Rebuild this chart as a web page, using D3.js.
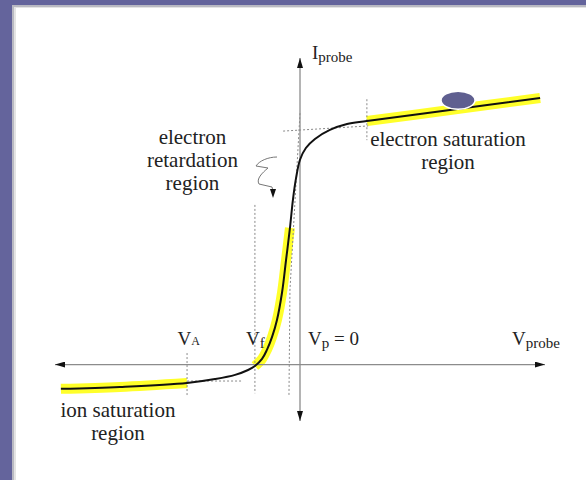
<!DOCTYPE html>
<html>
<head>
<meta charset="utf-8">
<script src="https://cdn.jsdelivr.net/npm/d3@7"></script>
<style>
  body { margin: 0; background: #ffffff; }
  svg { display: block; }
  text { font-family: "Liberation Serif", "Times New Roman", serif; fill: #222; }
</style>
</head>
<body>
<div id="chart"></div>
<script>
// Langmuir probe I-V characteristic (schematic)

var width = 586, height = 480;

// probe curve (V in arbitrary units, V_p = 0)
var curveV = [-9.76, -7.35, -4.61, -3.47, -2.65, -2.12, -1.84, -1.55, -1.35, -1.14, -0.94,
              -0.73, -0.57, -0.41, -0.29, -0.16, 0.00, 0.24, 0.61, 1.22, 1.92, 2.73, 6.12, 9.80];
var curveI = [-0.99, -0.91, -0.75, -0.59, -0.42, -0.22, -0.06, 0.23, 0.60, 1.13, 1.82,
              2.96, 4.26, 5.57, 6.71, 7.61, 8.35, 8.83, 9.20, 9.57, 9.81, 9.93, 10.38, 10.87];

// characteristic voltages
var vA = -4.61, vF = -1.84, vSat = 2.73;

// highlighted ranges [from, to]
var highlights = [[-9.76, -4.61], [-1.84, -0.41], [2.73, 9.80]];

// dotted construction lines, each a list of [V, I]
var guides = [
  [[vA, 0.47], [vA, -1.25]],
  [[vF, 6.51], [vF, -1.17]],
  [[0.0, 10.25], [-0.41, 3.04], [-0.45, -1.25]],
  [[-0.69, 9.52], [2.78, 9.73]],
  [[vSat, 10.82], [vSat, 9.15]],
  [[vA, -0.67], [-2.37, -0.67]]
];

// text labels
var regionLabels = [
  { lines: ["electron", "retardation", "region"], v: -4.39, i: 9.0 },
  { lines: ["electron saturation", "region"], v: 6.04, i: 8.92 },
  { lines: ["ion saturation", "region"], v: -7.43, i: -2.14 }
];
var symbolLabels = [
  { main: "I", sub: "probe", tail: "", v: 0.49, i: 12.45 },
  { main: "V", sub: "A", tail: "", v: -5.0, i: 0.8, small: true },
  { main: "V", sub: "f", tail: "", v: -2.2, i: 0.8 },
  { main: "V", sub: "p", tail: " = 0", v: 0.33, i: 0.8 },
  { main: "V", sub: "probe", tail: "", v: 8.65, i: 0.8 }
];

var marker = { v: 6.45, i: 10.78 };

var x = d3.scaleLinear().domain([-10, 10]).range([55, 545]);
var y = d3.scaleLinear().domain([-2.3, 12.5]).range([421, 58]);

var svg = d3.select("#chart").append("svg")
    .attr("width", width)
    .attr("height", height);

// slide frame
svg.append("rect").attr("width", width).attr("height", height).attr("fill", "#64649c");
svg.append("rect").attr("x", 12).attr("y", 5).attr("width", width).attr("height", height).attr("fill", "#b9b9c2");
svg.append("rect").attr("x", 14).attr("y", 7).attr("width", width).attr("height", height).attr("fill", "#e4e4e4");
svg.append("rect").attr("x", 16).attr("y", 8).attr("width", width).attr("height", height).attr("fill", "#ffffff");

var pts = curveV.map(function(v, k) { return [v, curveI[k]]; });

var line = d3.line()
    .x(function(d) { return x(d[0]); })
    .y(function(d) { return y(d[1]); })
    .curve(d3.curveCatmullRom.alpha(0.5));

// yellow highlight bands
highlights.forEach(function(h) {
    var seg = pts.filter(function(d) { return d[0] >= h[0] - 1e-6 && d[0] <= h[1] + 1e-6; });
    svg.append("path")
        .attr("d", line(seg))
        .attr("fill", "none")
        .attr("stroke", "#ffff2a")
        .attr("stroke-width", 10)
        .attr("stroke-linecap", "butt");
});

// dotted guides
var gline = d3.line()
    .x(function(d) { return x(d[0]); })
    .y(function(d) { return y(d[1]); });

svg.append("g").selectAll("path")
    .data(guides)
    .enter()
    .append("path")
    .attr("d", gline)
    .attr("fill", "none")
    .attr("stroke", "#8a8a8a")
    .attr("stroke-width", 1)
    .attr("stroke-dasharray", "2,2");

// axes with arrows
var defs = svg.append("defs");
defs.append("marker")
    .attr("id", "arrow")
    .attr("viewBox", "0 0 10 6")
    .attr("refX", 10).attr("refY", 3)
    .attr("markerWidth", 10).attr("markerHeight", 6)
    .attr("markerUnits", "userSpaceOnUse")
    .attr("orient", "auto-start-reverse")
    .append("path")
    .attr("d", "M0,0 L10,3 L0,6 Z")
    .attr("fill", "#111");

svg.append("line")
    .attr("x1", x(-10)).attr("x2", x(10))
    .attr("y1", y(0)).attr("y2", y(0))
    .attr("stroke", "#8c8c8c").attr("stroke-width", 1.3)
    .attr("marker-start", "url(#arrow)")
    .attr("marker-end", "url(#arrow)");

svg.append("line")
    .attr("x1", x(0)).attr("x2", x(0))
    .attr("y1", y(-2.3)).attr("y2", y(12.5))
    .attr("stroke", "#8c8c8c").attr("stroke-width", 1.3)
    .attr("marker-start", "url(#arrow)")
    .attr("marker-end", "url(#arrow)");

// the I-V curve
svg.append("path")
    .attr("d", line(pts))
    .attr("fill", "none")
    .attr("stroke", "#111")
    .attr("stroke-width", 2);

// marker blob on the saturation line
svg.append("ellipse")
    .attr("cx", x(marker.v)).attr("cy", y(marker.i))
    .attr("rx", 17).attr("ry", 9)
    .attr("fill", "#5f5f90")
    .attr("stroke", "#ffffff")
    .attr("stroke-width", 1.5);

// squiggly pointer
svg.append("path")
    .attr("d", "M277,157 C268,157 259,161 256,166 L268,168 C262,173 256,179 259,184 L272,187 L273,191")
    .attr("fill", "none")
    .attr("stroke", "#777")
    .attr("stroke-width", 1);
svg.append("path")
    .attr("d", "M270,189 L276,189 L273,198 Z")
    .attr("fill", "#111");

// region labels
regionLabels.forEach(function(r) {
    var t = svg.append("text")
        .attr("text-anchor", "middle")
        .attr("font-size", 21)
        .attr("x", x(r.v))
        .attr("y", y(r.i));
    r.lines.forEach(function(s, k) {
        t.append("tspan")
            .attr("x", x(r.v))
            .attr("dy", k === 0 ? 0 : 23)
            .text(s);
    });
});

// symbol labels
symbolLabels.forEach(function(s) {
    var t = svg.append("text")
        .attr("x", x(s.v))
        .attr("y", y(s.i))
        .attr("font-size", 19);
    t.append("tspan").text(s.main);
    t.append("tspan")
        .attr("font-size", s.small ? 12 : 15)
        .attr("dy", s.small ? 0 : 3)
        .text(s.sub);
    if (s.tail) {
        t.append("tspan").attr("dy", -3).text(s.tail);
    }
});
</script>
</body>
</html>
